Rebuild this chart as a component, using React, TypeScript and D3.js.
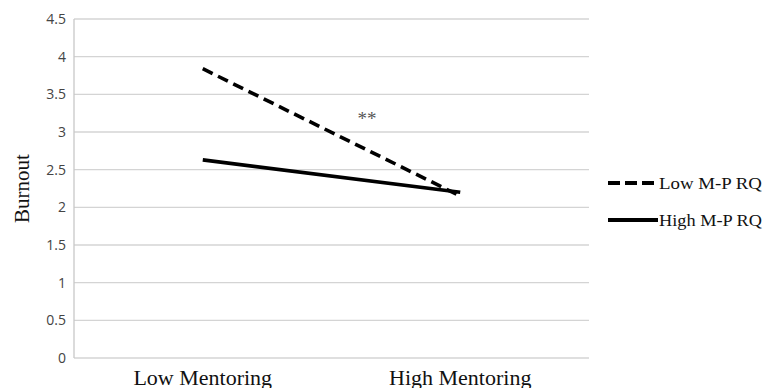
import React from 'react';
import * as d3 from 'd3';

const categories = ['Low Mentoring', 'High Mentoring'];
const seriesNames = ['Low M-P RQ', 'High M-P RQ'];
const lowRQ = [3.84, 2.15];
const highRQ = [2.63, 2.2];
const yTicks = [0, 0.5, 1, 1.5, 2, 2.5, 3, 3.5, 4, 4.5];

const width = 766;
const height = 388;
const margin = { top: 19, right: 177, bottom: 30, left: 74 };

const App = () => {
  const x = d3.scaleBand<string>()
    .domain(categories)
    .range([margin.left, width - margin.right]);

  const y = d3.scaleLinear()
    .domain([0, 4.5])
    .range([height - margin.bottom, margin.top]);

  const line = d3.line<number>()
    .x((d, i) => (x(categories[i]) as number) + x.bandwidth() / 2)
    .y(d => y(d));

  const series = [
    { name: seriesNames[0], values: lowRQ, dash: '11,6', legendDash: '12,5' },
    { name: seriesNames[1], values: highRQ, dash: null, legendDash: null },
  ];

  return (
    <svg width={width} height={height} style={{ position: 'absolute', left: 0, top: 0, background: '#fff' }}>
      {/* grid */}
      {yTicks.map(t => (
        <g key={t}>
          <line x1={margin.left} x2={width - margin.right} y1={y(t)} y2={y(t)} stroke="#d4d4d4" strokeWidth={1.3} />
          <text x={margin.left - 8} y={y(t)} dy="0.35em" textAnchor="end"
            fontFamily="'Open Sans', Arial, sans-serif" fontSize={14} fill="#444">{t}</text>
        </g>
      ))}
      <line x1={margin.left} x2={margin.left} y1={y(4.5)} y2={y(0)} stroke="#c8c8c8" strokeWidth={1.3} />

      {/* category labels */}
      {categories.map(c => (
        <text key={c} x={(x(c) as number) + x.bandwidth() / 2} y={385} textAnchor="middle"
          fontFamily="'Liberation Serif', 'Times New Roman', serif" fontSize={22} fill="#111">{c}</text>
      ))}

      <text transform={`translate(29, ${y(2.25)}) rotate(-90)`} textAnchor="middle"
        fontFamily="'Liberation Serif', 'Times New Roman', serif" fontSize={21} fill="#111">Burnout</text>

      {/* lines */}
      {series.map(s => (
        <path key={s.name} d={line(s.values) as string} fill="none" stroke="#000"
          strokeWidth={3.6} strokeDasharray={s.dash ?? undefined} strokeLinecap="butt" />
      ))}

      <text x={367} y={125} textAnchor="middle" fontFamily="'Liberation Serif', serif" fontSize={19} fill="#555">**</text>

      {/* legend */}
      {series.map((s, i) => (
        <g key={s.name} transform={`translate(608, ${183 + i * 37})`}>
          <line x1={0} x2={50} y1={0} y2={0} stroke="#000" strokeWidth={3.8} strokeDasharray={s.legendDash ?? undefined} />
          <text x={51} y={0} dy="0.35em" fontFamily="'Liberation Serif', 'Times New Roman', serif" fontSize={17} fill="#111"
            textLength={103} lengthAdjust="spacingAndGlyphs">{s.name}</text>
        </g>
      ))}
    </svg>
  );
};

export default App;
